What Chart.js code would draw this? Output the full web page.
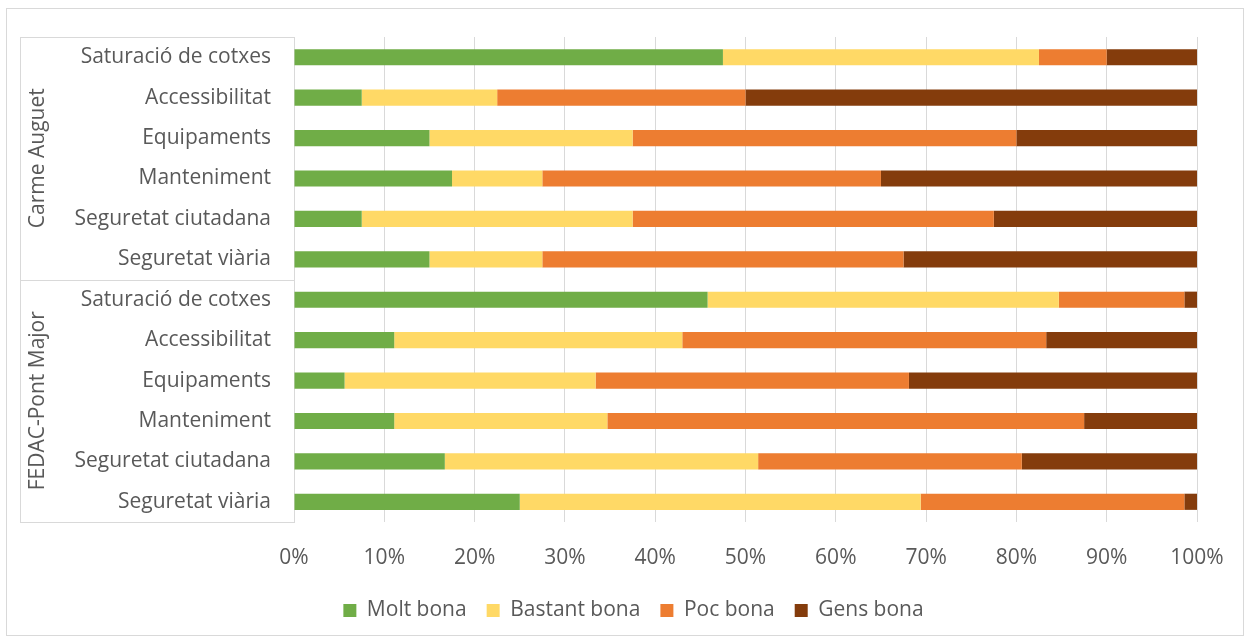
<!DOCTYPE html>
<html>
<head>
<meta charset="utf-8">
<script src="https://cdn.jsdelivr.net/npm/chart.js@4"></script>
<style>
  html, body { margin: 0; padding: 0; background: #fff; }
  #wrap { width: 1250px; height: 642px; position: relative; }
</style>
</head>
<body>
<div id="wrap"><canvas id="chart"></canvas></div>
<script>
// groups + items (top to bottom)
const groups = ["Carme Auguet", "FEDAC-Pont Major"];
const items = ["Saturació de cotxes", "Accessibilitat", "Equipaments", "Manteniment", "Seguretat ciutadana", "Seguretat viària"];
const seriesNames = ["Molt bona", "Bastant bona", "Poc bona", "Gens bona"];
const seriesColors = ["#70AD47", "#FFD966", "#ED7D31", "#843C0C"];

// percentages
const carmeMolt    = [47.5, 7.5, 15, 17.5, 7.5, 15];
const carmeBastant = [35, 15, 22.5, 10, 30, 12.5];
const carmePoc     = [7.5, 27.5, 42.5, 37.5, 40, 40];
const carmeGens    = [10, 50, 20, 35, 22.5, 32.5];

const fedacMolt    = [45.8, 11.1, 5.6, 11.1, 16.7, 25];
const fedacBastant = [38.9, 31.9, 27.8, 23.6, 34.7, 44.4];
const fedacPoc     = [13.9, 40.3, 34.7, 52.8, 29.2, 29.2];
const fedacGens    = [1.4, 16.7, 31.9, 12.5, 19.4, 1.4];

const xTicks = [0, 10, 20, 30, 40, 50, 60, 70, 80, 90, 100];

const labels = items.concat(items);
const seriesData = [
  carmeMolt.concat(fedacMolt),
  carmeBastant.concat(fedacBastant),
  carmePoc.concat(fedacPoc),
  carmeGens.concat(fedacGens)
];

const FONT = "'Open Sans', sans-serif";
const TEXT = "#595959";
const LINE = "#d9d9d9";

// group column, boxes and outer frame
const groupPlugin = {
  id: "groupBoxes",
  afterLayout(chart) {
    // legend sits a bit right of centre in the original
    chart.legend.left += 25;
    chart.legend.right += 25;
  },
  afterDraw(chart) {
    const { ctx, chartArea } = chart;
    const y = chart.scales.y;
    const left = 20;
    const per = items.length;
    const bounds = [chartArea.top];
    for (let g = 1; g < groups.length; g++) {
      bounds.push((y.getPixelForValue(g * per - 1) + y.getPixelForValue(g * per)) / 2);
    }
    bounds.push(chartArea.bottom);

    ctx.save();
    ctx.strokeStyle = LINE;
    ctx.lineWidth = 1;
    ctx.beginPath();
    bounds.forEach(b => {
      const yy = Math.round(b) + 0.5;
      ctx.moveTo(left, yy);
      ctx.lineTo(chartArea.left, yy);
    });
    ctx.moveTo(left + 0.5, Math.round(chartArea.top));
    ctx.lineTo(left + 0.5, Math.round(chartArea.bottom) + 1);
    ctx.stroke();

    // outer frame
    ctx.strokeRect(6.5, 8.5, 1237, 627);

    ctx.fillStyle = TEXT;
    ctx.font = "21px " + FONT;
    ctx.textAlign = "center";
    ctx.textBaseline = "middle";
    groups.forEach((name, i) => {
      const cy = (bounds[i] + bounds[i + 1]) / 2;
      ctx.save();
      ctx.translate(38, cy);
      ctx.rotate(-Math.PI / 2);
      ctx.fillText(name, 0, 0);
      ctx.restore();
    });
    ctx.restore();
  }
};

new Chart(document.getElementById("chart"), {
  type: "bar",
  data: {
    labels: labels,
    datasets: seriesNames.map((name, i) => ({
      label: name,
      data: seriesData[i],
      backgroundColor: seriesColors[i],
      borderWidth: 0,
      barPercentage: 0.4,
      categoryPercentage: 1
    }))
  },
  options: {
    indexAxis: "y",
    responsive: true,
    maintainAspectRatio: false,
    animation: false,
    layout: { padding: { top: 37, left: 20, right: 53, bottom: 11 } },
    scales: {
      x: {
        stacked: true,
        min: 0,
        max: 100,
        afterBuildTicks: scale => { scale.ticks = xTicks.map(v => ({ value: v })); },
        afterFit: scale => { scale.height = 58; },
        ticks: {
          callback: v => v + "%",
          color: TEXT,
          font: { family: FONT, size: 21 },
          padding: 23,
          maxRotation: 0
        },
        grid: { color: LINE, lineWidth: 1, drawTicks: false },
        border: { display: false }
      },
      y: {
        stacked: true,
        afterFit: scale => { scale.width = 274; },
        ticks: {
          color: TEXT,
          font: { family: FONT, size: 21 },
          padding: 23,
          autoSkip: false
        },
        grid: { display: false, drawTicks: false },
        border: { display: true, color: LINE, width: 1 }
      }
    },
    plugins: {
      legend: {
        position: "bottom",
        labels: {
          color: TEXT,
          font: { family: FONT, size: 21 },
          boxWidth: 13,
          boxHeight: 13,
          padding: 20
        }
      },
      tooltip: { enabled: false }
    }
  },
  plugins: [groupPlugin]
});
</script>
</body>
</html>
